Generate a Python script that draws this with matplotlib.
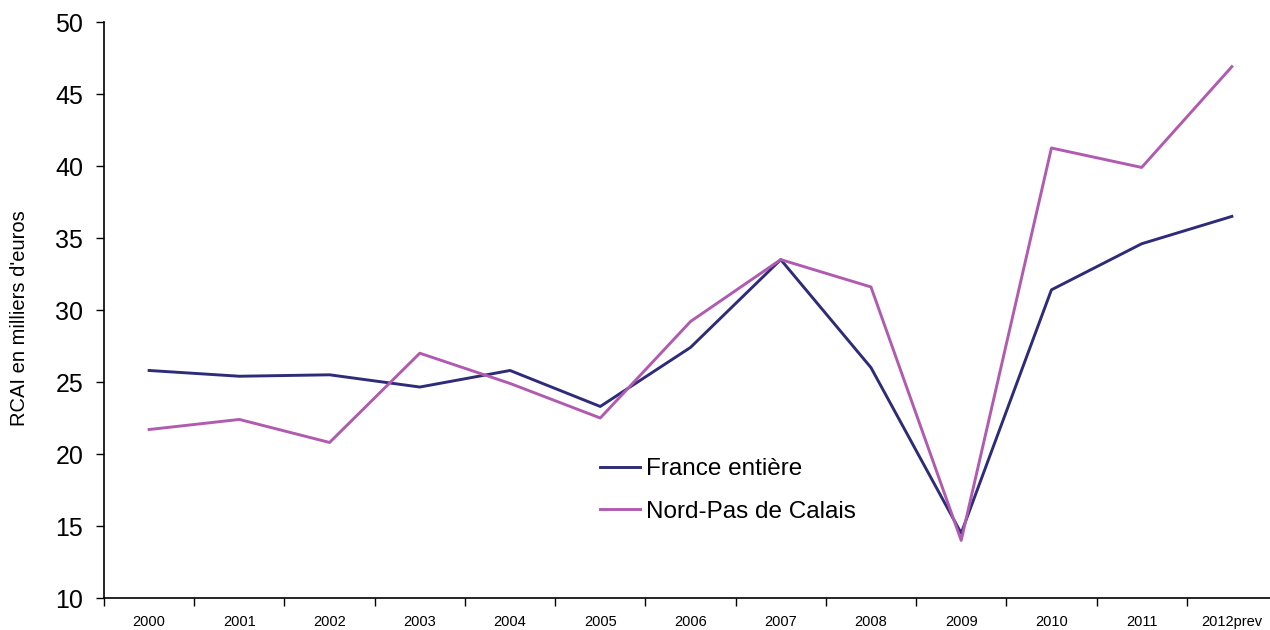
import matplotlib
matplotlib.use("Agg")
import matplotlib.pyplot as plt
import numpy as np

years = ["2000", "2001", "2002", "2003", "2004", "2005", "2006", "2007",
         "2008", "2009", "2010", "2011", "2012prev"]
france = [25.8, 25.4, 25.5, 24.65, 25.8, 23.3, 27.4, 33.5, 26.0, 14.5, 31.4, 34.6, 36.5]
nord = [21.7, 22.4, 20.8, 27.0, 24.9, 22.5, 29.2, 33.5, 31.6, 14.0, 41.25, 39.9, 46.9]
yticks = [10, 15, 20, 25, 30, 35, 40, 45, 50]

plt.rcParams['font.family'] = ['Liberation Sans', 'DejaVu Sans']

W, H = 1270, 630
fig = plt.figure(figsize=(W / 100, H / 100), dpi=100)
left, right, top, bottom = 104, 1277, 22, 598
ax = fig.add_axes([left / W, 1 - bottom / H, (right - left) / W, (bottom - top) / H])

x = np.arange(len(years))
ax.plot(x, france, color="#2e2c78", lw=2.1, label="France entière")
ax.plot(x, nord, color="#b15bb0", lw=2.1, label="Nord-Pas de Calais")

ax.set_xlim(-0.5, len(years) - 0.5)
ax.set_ylim(10, 50)
ax.set_yticks(yticks)
ax.tick_params(axis='y', labelsize=18, length=6, width=1, direction='out', pad=9)

ax.set_xticks(np.arange(len(years)) - 0.5)
ax.set_xticklabels([])
ax.set_xticks(x, minor=True)
ax.set_xticklabels(years, minor=True)
ax.tick_params(axis='x', which='major', length=6, width=1, direction='out')
ax.tick_params(axis='x', which='minor', length=0, labelsize=10.5, pad=12)

for s in ['top', 'right']:
    ax.spines[s].set_visible(False)
for s in ['left', 'bottom']:
    ax.spines[s].set_linewidth(1.2)

fig.text(20 / W, 1 - 318 / H, "RCAI en milliers d'euros", rotation=90,
         ha='center', va='center', fontsize=14.5)

ax.legend(loc='center left', bbox_to_anchor=(600 / W, 1 - 490.5 / H),
          bbox_transform=fig.transFigure, frameon=False, fontsize=17.5,
          handlelength=1.65, handletextpad=0.25, labelspacing=0.85,
          borderpad=0, borderaxespad=0)

fig.savefig("out.png", dpi=100)
